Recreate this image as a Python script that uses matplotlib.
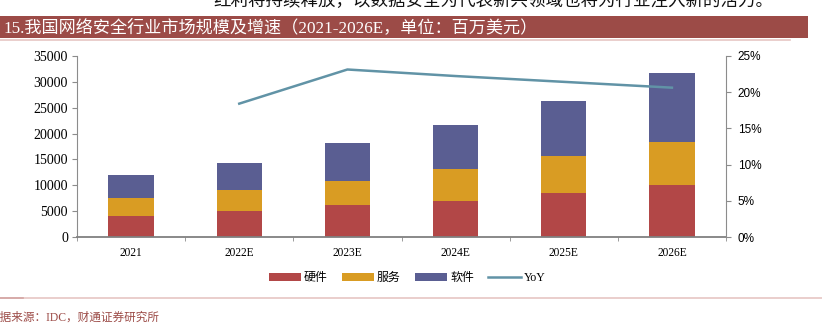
import numpy as np
import matplotlib.pyplot as plt
from matplotlib.patches import Patch, Rectangle
from matplotlib.lines import Line2D
from matplotlib.ticker import PercentFormatter, FixedLocator

plt.rcParams['font.family'] = ['Liberation Serif', 'Noto Sans CJK SC']

# 数据（百万美元）
years = ["2021", "2022E", "2023E", "2024E", "2025E", "2026E"]
hardware = [4200, 5050, 6150, 7000, 8500, 10100]
service = [3450, 4100, 4650, 6100, 7100, 8200]
software = [4400, 5200, 7300, 8600, 10700, 13300]
yoy = [np.nan, 0.184, 0.231, 0.222, 0.214, 0.206]

c_hw = "#B24747"
c_sv = "#D99C23"
c_sw = "#5A5E92"
c_yoy = "#6193A6"
brown = "#9C4B47"
spine = "#8C8C8C"

W, H = 822, 325
fig = plt.figure(figsize=(W / 100, H / 100), dpi=100)

def fx(px):
    return px / W

def fy(py):
    return 1 - py / H

# 顶部被裁掉的正文
fig.text(fx(213), fy(6), "红利将持续释放，以数据安全为代表新兴领域也将为行业注入新的活力。",
         fontsize=12.6, va='baseline', ha='left', color='#111111',
         family=['Noto Sans CJK SC'])

# 标题栏
fig.patches.append(Rectangle((0, fy(38)), fx(808), fy(16) - fy(38),
                             transform=fig.transFigure, facecolor=brown,
                             edgecolor='none', zorder=0))
fig.add_artist(Line2D([0, fx(790)], [fy(40), fy(40)], transform=fig.transFigure,
                      color='#E6C6C4', lw=1.2))
fig.text(fx(4), fy(27.5), "15.我国网络安全行业市场规模及增速（2021-2026E，单位：百万美元）",
         fontsize=12.3, color='white', va='center', ha='left')

# 主图
ax = fig.add_axes([fx(77), fy(237.3), fx(726) - fx(77), fy(55.7) - fy(237.3)])
x = np.arange(len(years))
bw = 0.42
hw = np.array(hardware)
sv = np.array(service)
sw = np.array(software)
ax.bar(x, hw, bw, color=c_hw, zorder=2)
ax.bar(x, sv, bw, bottom=hw, color=c_sv, zorder=2)
ax.bar(x, sw, bw, bottom=hw + sv, color=c_sw, zorder=2)

ax.set_xlim(-0.5, len(years) - 0.5)
ax.set_ylim(0, 35000)
ax.set_yticks(np.arange(0, 35001, 5000))
ax.set_xticks(x)
ax.set_xticklabels(years, fontsize=8.3)
ax.xaxis.set_minor_locator(FixedLocator(np.arange(-0.5, len(years), 1)))
ax.tick_params(axis='x', which='major', length=0, pad=7)
ax.tick_params(axis='x', which='minor', length=3, color=spine, direction='out')
ax.tick_params(axis='y', length=3.5, color=spine, labelsize=10, pad=3)
for s in ['top', 'right']:
    ax.spines[s].set_visible(False)
ax.spines['left'].set_color(spine)
ax.spines['bottom'].set_color('#808080')
ax.spines['bottom'].set_linewidth(1.3)
ax.spines['bottom'].set_zorder(3)

ax2 = ax.twinx()
ax2.plot(x, yoy, color=c_yoy, lw=1.8, zorder=3)
ax2.set_ylim(0, 0.25)
ax2.set_yticks(np.arange(0, 0.2501, 0.05))
ax2.yaxis.set_major_formatter(PercentFormatter(1.0, decimals=0))
ax2.tick_params(axis='y', length=3.5, color=spine, pad=5)
for lab in ax2.get_yticklabels():
    lab.set_family('Liberation Sans')
    lab.set_fontsize(8.5)
for s in ['top', 'left', 'bottom']:
    ax2.spines[s].set_visible(False)
ax2.spines['right'].set_color(spine)

# 图例
handles = [Patch(facecolor=c_hw, edgecolor='none', label='硬件'),
           Patch(facecolor=c_sv, edgecolor='none', label='服务'),
           Patch(facecolor=c_sw, edgecolor='none', label='软件'),
           Line2D([0], [0], color=c_yoy, lw=1.8, label='YoY')]
fig.legend(handles=handles, loc='center', bbox_to_anchor=(fx(407), fy(278)),
           ncol=4, frameon=False, fontsize=8.6, handlelength=2.7,
           handleheight=0.7, handletextpad=0.25, columnspacing=1.2)

# 底部分隔线及来源
fig.add_artist(Line2D([0, 1], [fy(297.5), fy(297.5)], transform=fig.transFigure,
                      color='#E6C6C4', lw=1.2))
fig.add_artist(Line2D([0, fx(23)], [fy(297.5), fy(297.5)], transform=fig.transFigure,
                      color='#D4A6A3', lw=1.2))
fig.text(fx(-11.5), fy(318), "数据来源：IDC，财通证券研究所", fontsize=8.4,
         color=brown, va='center', ha='left')

fig.savefig("out.png", dpi=100)
